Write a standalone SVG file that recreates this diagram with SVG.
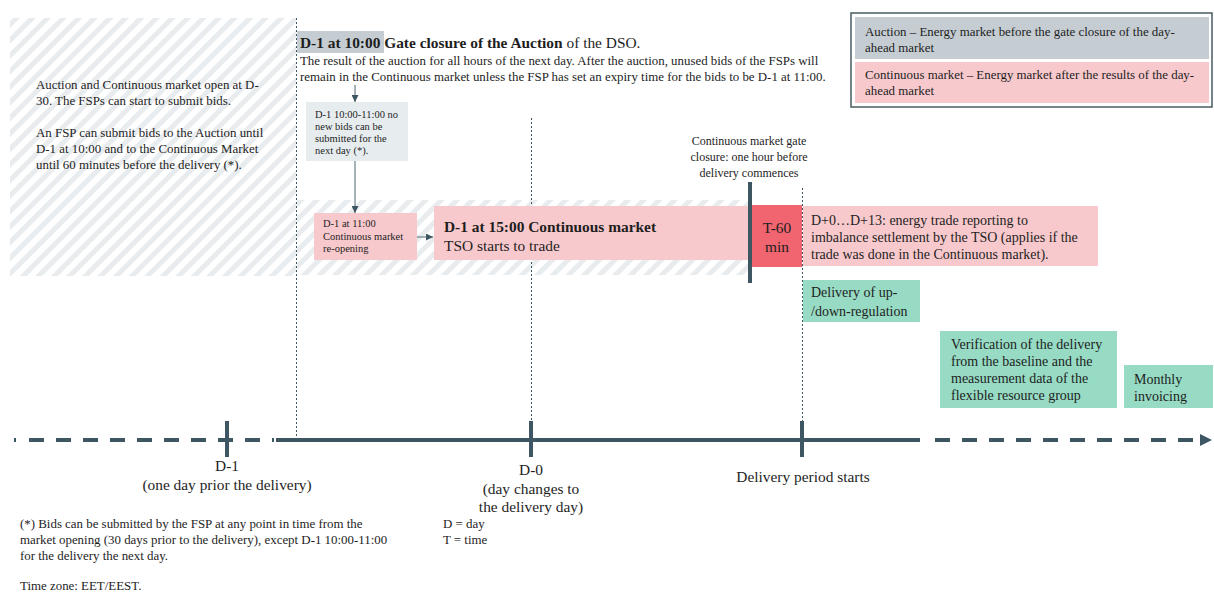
<svg xmlns="http://www.w3.org/2000/svg" width="1214" height="594" viewBox="0 0 1214 594">
<defs>
<pattern id="hatch" width="11" height="11" patternUnits="userSpaceOnUse" patternTransform="rotate(45)">
<rect width="11" height="11" fill="#ffffff"/>
<rect x="0" y="0" width="5" height="11" fill="#e8ecee"/>
</pattern>
<marker id="ah" viewBox="0 0 10 10" refX="10" refY="5" markerWidth="7" markerHeight="7" markerUnits="userSpaceOnUse" orient="auto">
<path d="M0,0 L10,5 L0,10 z" fill="#3e5661"/>
</marker>
</defs>
<style>
text { font-family: "Liberation Serif", "Times New Roman", serif; fill: #1e1e1e; }
.s { font-size: 12.9px; }
.g { font-size: 12px; }
.xs { font-size: 10.5px; }
.m { font-size: 14px; }
.l { font-size: 15.4px; }
.b { font-weight: bold; }
.c { text-anchor: middle; }
.dot { stroke: #3e5661; stroke-width: 1; stroke-dasharray: 2 2; fill: none; }
.conn { stroke: #6b7f88; stroke-width: 1.2; fill: none; }
.axis { stroke: #3e5661; stroke-width: 4; fill: none; }
.pink { fill: #f8c9cc; }
.green { fill: #97dbc4; }
</style>

<!-- background hatch areas -->
<g id="hatch-areas">
<rect x="10" y="18" width="286" height="258" fill="url(#hatch)"/>
<rect x="297" y="200" width="453" height="75" fill="url(#hatch)"/>
</g>

<!-- guide lines -->
<g id="guides">
<line class="dot" x1="296.5" y1="18" x2="296.5" y2="438"/>
<line class="dot" x1="531.5" y1="118" x2="531.5" y2="422"/>
<line class="dot" x1="802.5" y1="188" x2="802.5" y2="422"/>
</g>

<!-- legend -->
<g id="legend">
<rect x="851" y="13" width="361" height="94" fill="#ffffff" stroke="#4a5b63" stroke-width="1.5"/>
<rect x="855" y="17" width="354" height="42" fill="#c5cdd3"/>
<text class="s" x="865" y="36">Auction – Energy market before the gate closure of the day-</text>
<text class="s" x="865" y="52">ahead market</text>
<rect x="855" y="62" width="354" height="41" class="pink"/>
<text class="s" x="865" y="79">Continuous market – Energy market after the results of the day-</text>
<text class="s" x="865" y="95">ahead market</text>
</g>

<!-- left intro text -->
<g id="intro">
<text class="s" x="36" y="89">Auction and Continuous market open at D-</text>
<text class="s" x="36" y="105">30. The FSPs can start to submit bids.</text>
<text class="s" x="36" y="137">An FSP can submit bids to the Auction until</text>
<text class="s" x="36" y="153">D-1 at 10:00 and to the Continuous Market</text>
<text class="s" x="36" y="169">until 60 minutes before the delivery (*).</text>
</g>

<!-- gate closure auction -->
<g id="gate-auction">
<rect x="297" y="31" width="87" height="22" fill="#c5cdd3"/>
<text class="l" x="300" y="48"><tspan class="b">D-1 at 10:00 Gate closure of the Auction</tspan> of the DSO.</text>
<text class="s" x="300" y="65">The result of the auction for all hours of the next day. After the auction, unused bids of the FSPs will</text>
<text class="s" x="300" y="81">remain in the Continuous market unless the FSP has set an expiry time for the bids to be D-1 at 11:00.</text>
</g>

<!-- no new bids box -->
<g id="no-bids">
<rect x="306" y="102" width="102" height="59" fill="#e7ecef"/>
<text class="xs" x="315" y="118">D-1 10:00-11:00 no</text>
<text class="xs" x="315" y="130">new bids can be</text>
<text class="xs" x="315" y="142">submitted for the</text>
<text class="xs" x="315" y="154">next day (*).</text>
</g>

<!-- reopening box -->
<g id="reopening">
<rect x="314" y="213" width="103" height="47" class="pink"/>
<text class="xs" x="323" y="227">D-1 at 11:00</text>
<text class="xs" x="323" y="240">Continuous market</text>
<text class="xs" x="323" y="252">re-opening</text>
</g>

<!-- continuous market box -->
<g id="continuous">
<rect x="434" y="206" width="318" height="54" class="pink"/>
<text class="l b" x="444" y="232">D-1 at 15:00 Continuous market</text>
<text class="l" x="444" y="251">TSO starts to trade</text>
</g>

<!-- gate closure continuous -->
<g id="gate-continuous">
<text class="g c" x="749" y="145">Continuous market gate</text>
<text class="g c" x="749" y="161">closure: one hour before</text>
<text class="g c" x="749" y="177">delivery commences</text>
<line x1="750" y1="182" x2="750" y2="283" stroke="#3e5661" stroke-width="4"/>
</g>

<!-- T-60 -->
<g id="t60">
<rect x="752" y="205" width="50" height="62" fill="#f0656f"/>
<text class="l c" x="777" y="233">T-60</text>
<text class="l c" x="777" y="252">min</text>
</g>

<!-- reporting -->
<g id="reporting">
<rect x="803" y="206" width="295" height="60" class="pink"/>
<text class="m" x="811" y="225">D+0…D+13: energy trade reporting to</text>
<text class="m" x="811" y="242">imbalance settlement by the TSO (applies if the</text>
<text class="m" x="811" y="259">trade was done in the Continuous market).</text>
</g>

<!-- delivery -->
<g id="delivery">
<rect x="803" y="280" width="117" height="42" class="green"/>
<text class="m" x="811" y="297">Delivery of up-</text>
<text class="m" x="811" y="316">/down-regulation</text>
</g>

<!-- verification -->
<g id="verification">
<rect x="940" y="331" width="177" height="77" class="green"/>
<text class="m" x="951" y="349">Verification of the delivery</text>
<text class="m" x="951" y="366">from the baseline and the</text>
<text class="m" x="951" y="383">measurement data of the</text>
<text class="m" x="951" y="400">flexible resource group</text>
</g>

<!-- invoicing -->
<g id="invoicing">
<rect x="1124" y="365" width="89" height="43" class="green"/>
<text class="m" x="1134" y="384">Monthly</text>
<text class="m" x="1134" y="401">invoicing</text>
</g>

<!-- connectors -->
<g id="connectors">
<line class="conn" x1="355" y1="85" x2="355" y2="102" marker-end="url(#ah)"/>
<line class="conn" x1="355" y1="161" x2="355" y2="213" marker-end="url(#ah)"/>
<line class="conn" x1="417" y1="237" x2="433" y2="237" marker-end="url(#ah)"/>
</g>

<!-- timeline -->
<g id="timeline">
<line class="axis" x1="14" y1="440" x2="16" y2="440"/>
<line class="axis" x1="29" y1="440" x2="274" y2="440" stroke-dasharray="15 12"/>
<line class="axis" x1="276" y1="440" x2="920" y2="440"/>
<line class="axis" x1="935" y1="440" x2="1200" y2="440" stroke-dasharray="15 12"/>
<path d="M1200,434 L1212,440 L1200,446 z" fill="#3e5661"/>
<line class="axis" x1="227" y1="421" x2="227" y2="457"/>
<line class="axis" x1="531" y1="421" x2="531" y2="457"/>
<line class="axis" x1="802" y1="421" x2="802" y2="457"/>
</g>

<!-- axis labels -->
<g id="labels">
<text class="l c" x="227" y="471">D-1</text>
<text class="l c" x="227" y="490">(one day prior the delivery)</text>
<text class="l c" x="531" y="475">D-0</text>
<text class="l c" x="531" y="494">(day changes to</text>
<text class="l c" x="531" y="512">the delivery day)</text>
<text class="l c" x="803" y="482">Delivery period starts</text>
</g>

<!-- footnotes -->
<g id="footnotes">
<text class="s" x="20" y="528">(*) Bids can be submitted by the FSP at any point in time from the</text>
<text class="s" x="20" y="544">market opening (30 days prior to the delivery), except D-1 10:00-11:00</text>
<text class="s" x="20" y="560">for the delivery the next day.</text>
<text class="s" x="20" y="590">Time zone: EET/EEST.</text>
<text class="s" x="443" y="528">D = day</text>
<text class="s" x="443" y="544">T = time</text>
</g>
</svg>
